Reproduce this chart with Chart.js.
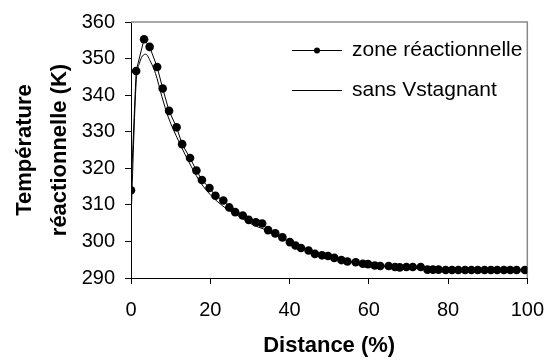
<!DOCTYPE html>
<html>
<head>
<meta charset="utf-8">
<script src="https://cdn.jsdelivr.net/npm/chart.js@4.4.1/dist/chart.umd.min.js"></script>
<style>
  body { margin: 0; background: #fff; }
  canvas { display: block; }
</style>
</head>
<body>
<canvas id="tempChart" width="558" height="360"></canvas>
<script>
// Données
const distZone = [0, 1.3, 3.3, 4.7, 6.6, 8.0, 9.6, 11.5, 12.9, 14.9, 16.5, 17.9, 19.8, 21.3, 23.3, 24.8,
    26.3, 28.2, 29.7, 31.5, 33.1, 34.6, 36.4, 38.2, 40.1, 41.5, 42.9, 44.8, 46.4, 48.2, 49.7, 51.3,
    53.1, 54.6, 56.7, 58.5, 59.8, 61.5, 62.9, 65.0, 66.6, 67.8, 69.5, 71.1, 73.1, 74.8, 76.2, 77.6,
    79.4, 81.0, 82.6, 84.3, 85.9, 87.5, 89.2, 90.8, 92.4, 94.1, 95.7, 97.3, 99.4];
const tempZone = [314, 346.6, 355.3, 353.2, 347.7, 341.8, 335.7, 331.2, 326.6, 322.8, 319.4, 316.8, 314.6, 312.5, 311.2, 309.3,
    308.0, 307.1, 305.9, 305.2, 304.9, 303.1, 302.2, 301.1, 299.8, 298.9, 298.2, 297.5, 296.6, 296.2, 296.0, 295.5,
    294.9, 294.5, 294.3, 293.9, 293.8, 293.4, 293.3, 293.3, 293.0, 292.9, 293.0, 293.0, 293.0, 292.3, 292.3, 292.3,
    292.2, 292.2, 292.2, 292.2, 292.2, 292.2, 292.2, 292.2, 292.2, 292.2, 292.2, 292.2, 292.2];

const distSans = [0, 1.3, 2.1, 3.7, 5.0, 6.2, 7.8, 9.4, 12.0, 15.2, 17.6, 20.0, 21.7, 24.0, 26.6, 30.7,
    34.8, 38.0, 40.0, 45.0, 50.0, 55.0, 60.0, 65.0, 70.0, 75.0, 80.0, 90.0, 100];
const tempSans = [306, 343.5, 348.6, 351.2, 349.0, 345.9, 339.6, 334.0, 327.5, 320.5, 316.0, 312.8, 311.0, 309.0, 307.3, 304.6,
    302.8, 301.0, 299.8, 297.4, 295.8, 294.5, 293.7, 293.2, 292.9, 292.4, 292.3, 292.2, 292.2];

const xTicks = [0, 20, 40, 60, 80, 100];
const yTicks = [290, 300, 310, 320, 330, 340, 350, 360];
const legendLabels = ['zone réactionnelle', 'sans Vstagnant'];

const FONT = "'Liberation Sans', Arial, sans-serif";

function toPoints(xs, ys) {
    return xs.map((x, i) => ({ x: x, y: ys[i] }));
}

// cadre gris (haut et droite) + légende dans la zone du graphique
const frameAndLegend = {
    id: 'frameAndLegend',
    beforeDatasetsDraw(chart) {
        const { ctx, chartArea: a } = chart;
        ctx.save();
        ctx.strokeStyle = '#8a8a8a';
        ctx.lineWidth = 1.5;
        ctx.beginPath();
        ctx.moveTo(a.left, a.top);
        ctx.lineTo(a.right, a.top);
        ctx.lineTo(a.right, a.bottom);
        ctx.stroke();
        ctx.restore();
    },
    afterDraw(chart) {
        const { ctx } = chart;
        ctx.save();
        ctx.strokeStyle = '#000';
        ctx.fillStyle = '#000';
        ctx.lineWidth = 1;
        ctx.font = '21px ' + FONT;
        ctx.textBaseline = 'middle';
        const rows = [50, 90];
        legendLabels.forEach((label, i) => {
            const y = rows[i];
            ctx.beginPath();
            ctx.moveTo(292, y + 0.5);
            ctx.lineTo(342, y + 0.5);
            ctx.stroke();
            if (i === 0) {
                ctx.beginPath();
                ctx.arc(317, y + 0.5, 3, 0, Math.PI * 2);
                ctx.fill();
            }
            ctx.fillText(label, 352, y);
        });
        ctx.restore();
    }
};

new Chart(document.getElementById('tempChart').getContext('2d'), {
    type: 'line',
    data: {
        datasets: [{
            label: legendLabels[0],
            data: toPoints(distZone, tempZone),
            borderColor: '#000',
            backgroundColor: '#000',
            borderWidth: 1,
            pointRadius: 4.3,
            pointBackgroundColor: '#000',
            pointBorderWidth: 0,
            tension: 0
        }, {
            label: legendLabels[1],
            data: toPoints(distSans, tempSans),
            borderColor: '#000',
            borderWidth: 1,
            pointRadius: 0,
            cubicInterpolationMode: 'monotone'
        }]
    },
    options: {
        responsive: false,
        animation: false,
        devicePixelRatio: 1,
        layout: { padding: { top: 20, right: 19, left: 0, bottom: 0 } },
        plugins: {
            legend: { display: false },
            tooltip: { enabled: false }
        },
        scales: {
            x: {
                type: 'linear',
                min: 0,
                max: 100,
                afterFit: s => { s.height = 82; },
                afterBuildTicks: s => { s.ticks = xTicks.map(v => ({ value: v })); },
                grid: { display: true, drawOnChartArea: false, drawTicks: true, tickLength: 6, color: '#000' },
                border: { color: '#000', width: 1 },
                ticks: { color: '#000', padding: 14, maxRotation: 0, font: { family: FONT, size: 20 } },
                title: {
                    display: true,
                    text: 'Distance (%)',
                    color: '#000',
                    padding: { top: 0, bottom: 1 },
                    font: { family: FONT, size: 22, weight: 'bold' }
                }
            },
            y: {
                min: 290,
                max: 360,
                afterFit: s => { s.width = 131; },
                afterBuildTicks: s => { s.ticks = yTicks.map(v => ({ value: v })); },
                grid: { display: true, drawOnChartArea: false, drawTicks: true, tickLength: 6, color: '#000' },
                border: { color: '#000', width: 1 },
                ticks: { color: '#000', padding: 10, font: { family: FONT, size: 20 } },
                title: {
                    display: true,
                    text: ['Température', 'réactionnelle (K)'],
                    color: '#000',
                    padding: { top: 7, bottom: 0 },
                    font: { family: FONT, size: 22, weight: 'bold', lineHeight: 1.6 }
                }
            }
        }
    },
    plugins: [frameAndLegend]
});
</script>
</body>
</html>
